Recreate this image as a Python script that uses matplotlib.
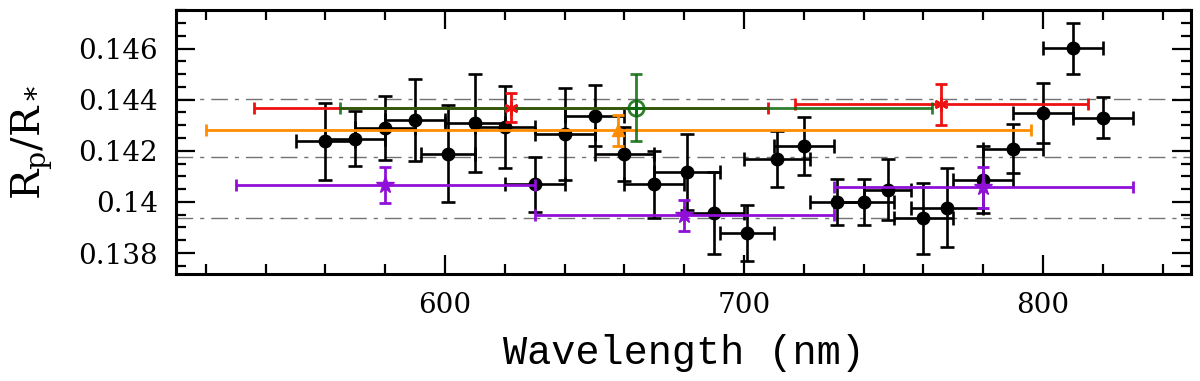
import matplotlib
matplotlib.use('Agg')
import matplotlib.pyplot as plt
from matplotlib.ticker import MultipleLocator

# ---------------- data ----------------
wl_black = [560, 570, 580, 590, 601, 610, 620, 630, 640, 650, 660, 670, 681, 690,
            701, 711, 720, 731, 740, 748, 760, 768, 780, 790, 800, 810, 820]
r_black = [0.14237, 0.14248, 0.14289, 0.14320, 0.14189, 0.14309, 0.14293, 0.14069,
           0.14267, 0.14338, 0.14186, 0.14069, 0.14117, 0.13958, 0.13878, 0.14167,
           0.14219, 0.13999, 0.13999, 0.14048, 0.13936, 0.13977, 0.14087, 0.14209,
           0.14348, 0.14601, 0.14329]
yerr_black = [0.0015, 0.00106, 0.00125, 0.0016, 0.0019, 0.0019, 0.0016, 0.00107,
              0.0018, 0.0012, 0.00106, 0.0013, 0.0015, 0.0016, 0.0011, 0.0011,
              0.00115, 0.0009, 0.0009, 0.0012, 0.0014, 0.00155, 0.0013, 0.00095,
              0.00116, 0.001, 0.0008]
xerr_black = [10, 10, 10, 10, 9, 10, 10, 10, 10, 10, 10, 10, 11, 10,
              9, 11, 10, 9, 10, 8, 10, 12, 10, 10, 10, 10, 10]

wl_red = [622, 766]
r_red = [0.14369, 0.14382]
yerr_red = [0.00058, 0.0008]
xerr_red = [86, 49]

wl_green = [664]
r_green = [0.14369]
yerr_green = [0.0013]
xerr_green = [99]

wl_orange = [658]
r_orange = [0.14280]
yerr_orange = [0.0006]
xerr_orange = [138]

wl_purple = [580, 680, 780]
r_purple = [0.14065, 0.13947, 0.14058]
yerr_purple = [0.0007, 0.0006, 0.0008]
xerr_purple = [50, 50, 50]

ref_levels = [0.14403, 0.14177, 0.13939]

x_ticks = [600, 700, 800]
x_ticklabels = ['600', '700', '800']
y_ticks = [0.138, 0.140, 0.142, 0.144, 0.146]
y_ticklabels = ['0.138', '0.14', '0.142', '0.144', '0.146']

# ---------------- plot ----------------
plt.rcParams['mathtext.fontset'] = 'dejavuserif'
fig = plt.figure(figsize=(12, 3.81), dpi=100)
ax = fig.add_axes([176 / 1200, 1 - 274 / 381, (1191 - 176) / 1200, (274 - 10) / 381])

for lev in ref_levels:
    ax.axhline(lev, color='0.45', lw=1.0, ls=(0, (12, 5, 3, 5)), zorder=1)

ax.errorbar(wl_black, r_black, xerr=xerr_black, yerr=yerr_black, fmt='o',
            color='black', ms=9, zorder=3, elinewidth=1.9, capsize=5, capthick=1.9)

ax.errorbar(wl_orange, r_orange, xerr=xerr_orange, yerr=yerr_orange, fmt='^',
            color='#ff8c00', ms=8, zorder=4, elinewidth=2.0, capsize=4.5, capthick=2.0)
ax.errorbar(wl_red, r_red, xerr=xerr_red, yerr=yerr_red, fmt='none',
            ecolor='#ee1111', zorder=4, elinewidth=2.0, capsize=4.5, capthick=2.0)
ax.plot(wl_red, r_red, ls='none', marker=(6, 2, 0), ms=10, mew=1.8,
        color='#ee1111', zorder=6)
ax.errorbar(wl_green, r_green, xerr=xerr_green, yerr=yerr_green, fmt='o',
            color='#0a6a0a', mfc='none', mew=2.0, ms=11, zorder=5, alpha=0.85,
            elinewidth=2.0, capsize=4.5, capthick=2.0)
ax.plot(wl_green, r_green, ls='none', marker='+', ms=9, mew=2.0,
        color='#0a6a0a', zorder=5)
ax.errorbar(wl_purple, r_purple, xerr=xerr_purple, yerr=yerr_purple, fmt='*',
            color='#9010d8', ms=13, zorder=4, elinewidth=2.0, capsize=4.5, capthick=2.0)

ax.set_xlim(510, 849.5)
ax.set_ylim(0.13718, 0.14751)

ax.set_xticks(x_ticks)
ax.set_xticklabels(x_ticklabels)
ax.xaxis.set_minor_locator(MultipleLocator(20))
ax.set_yticks(y_ticks)
ax.set_yticklabels(y_ticklabels)
ax.yaxis.set_minor_locator(MultipleLocator(0.0005))

ax.tick_params(which='both', direction='in', top=True, right=True, width=1.6,
               labelsize=20, pad=13)
ax.tick_params(which='major', length=14)
ax.tick_params(which='minor', length=7)
for lab in ax.get_xticklabels() + ax.get_yticklabels():
    lab.set_family('DejaVu Serif')
for sp in ax.spines.values():
    sp.set_linewidth(2.2)

ax.set_xlabel('Wavelength (nm)', family='Liberation Mono', fontsize=29)
ax.xaxis.set_label_coords(0.5, (274 - 353) / 264)
ax.xaxis.label.set_va('center')
ax.set_ylabel(r'$\mathrm{R_p/R_*}$', fontsize=29)
ax.yaxis.set_label_coords((32 - 176) / 1015, 0.5)
ax.yaxis.label.set_va('center')

fig.savefig('out.png', dpi=100)
